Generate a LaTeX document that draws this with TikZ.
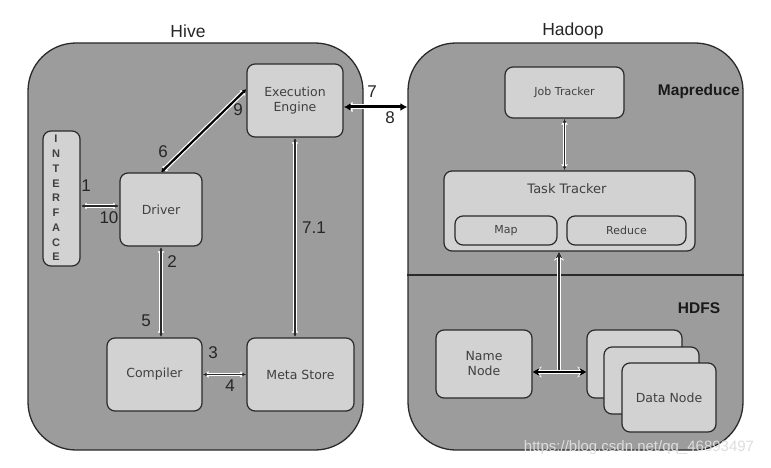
\documentclass[tikz,border=0pt]{standalone}
\usepackage{fontspec}
\setmainfont{Liberation Sans}
\newfontfamily\boxfont{DejaVu Sans}
\usetikzlibrary{arrows.meta,calc}
\definecolor{cgray}{HTML}{9C9C9C}
\definecolor{lgray}{HTML}{D2D2D2}
\definecolor{tgray}{HTML}{404040}
\definecolor{edge}{HTML}{2A2A2A}
\definecolor{wmark}{HTML}{DDDDDD}
\tikzset{
  cont/.style={draw=edge, line width=1.3pt, fill=cgray, rounded corners=48pt, inner sep=0pt},
  box/.style={draw=edge, line width=1.2pt, fill=lgray, rounded corners=8pt, inner sep=0pt,
    font=\boxfont\fontsize{12.5}{15}\selectfont, text=tgray, align=center},
  smallbox/.style={box, font=\boxfont\fontsize{11}{13}\selectfont},
  title/.style={font=\fontsize{17.5}{17.5}\selectfont, text=black!85, inner sep=0pt},
  sect/.style={font=\bfseries\fontsize{15.5}{16}\selectfont, text=black!90, inner sep=0pt},
  num/.style={font=\fontsize{17}{17}\selectfont, text=black!85, inner sep=0pt},
  link/.style={draw=edge, line width=1.1pt, {Latex[length=4pt,width=4pt]}-{Latex[length=4pt,width=4pt]},
    preaction={draw=white, line width=3.8pt, {Latex[length=6pt,width=7pt]}-{Latex[length=6pt,width=7pt]}}},
  thicklink/.style={draw=black, line width=2.2pt, {Latex[length=4pt,width=5pt]}-{Latex[length=4pt,width=5pt]},
    preaction={draw=white, line width=4.6pt, {Latex[length=6pt,width=8pt]}-{Latex[length=6pt,width=8pt]}}},
  biglink/.style={draw=black, line width=3pt, {Latex[length=7pt,width=8pt]}-{Latex[length=7pt,width=8pt]},
    preaction={draw=white, line width=5pt, {Latex[length=9pt,width=11pt]}-{Latex[length=9pt,width=11pt]}}},
  hlink/.style={draw=black, line width=1.6pt, {Stealth[length=7pt,width=8pt]}-{Stealth[length=7pt,width=8pt]},
    preaction={draw=white, line width=3.8pt, {Stealth[length=9pt,width=11pt]}-{Stealth[length=9pt,width=11pt]}}},
  uplink/.style={draw=edge, line width=1.1pt, -{Stealth[length=7pt,width=7pt]},
    preaction={draw=white, line width=3.8pt, -{Stealth[length=9pt,width=10pt]}}},
}
\begin{document}
\begin{tikzpicture}[x=1pt,y=-1pt]
\useasboundingbox (0,0) rectangle (771,468);
\fill[white] (0,0) rectangle (771,468);

% containers
\node[cont, minimum width=335pt, minimum height=407pt] (hive) at (195.5,246.5) {};
\node[cont, minimum width=335pt, minimum height=407pt] (hadoop) at (575.5,246.5) {};
\draw[draw=edge, line width=1.3pt] (hadoop.west |- 0,275) -- (hadoop.east |- 0,275);

\node[title] (hivet) at (188,31) {Hive};
\node[title] (hadoopt) at (573,31) {Hadoop};

% Hive boxes
\node[box, minimum width=96pt, minimum height=73pt] (exec) at (295,100.5) {Execution\\Engine};
\node[box, minimum width=37pt, minimum height=135pt] (iface) at (61.5,198.5) {};
\node[font=\bfseries\fontsize{11}{14.75}\selectfont, text=tgray, align=center, inner sep=0pt] (ifacet) at (56,198)
  {I\\N\\T\\E\\R\\F\\A\\C\\E};
\node[box, minimum width=82pt, minimum height=73pt] (driver) at (161,209.5) {Driver};
\node[box, minimum width=95pt, minimum height=73pt] (compiler) at (154.5,374.5) {Compiler};
\node[box, minimum width=107pt, minimum height=73pt] (meta) at (300.5,374.5) {Meta Store};

% Hadoop boxes
\node[smallbox, minimum width=119pt, minimum height=51pt] (job) at (564.5,92.5) {Job Tracker};
\node[sect, anchor=east] (mapred) at (740,91) {Mapreduce};
\node[box, minimum width=251pt, minimum height=80pt] (task) at (569.5,211) {};
\node[font=\boxfont\fontsize{13}{15}\selectfont, text=tgray, inner sep=0pt] (taskt) at (567,189) {Task Tracker};
\node[smallbox, minimum width=102pt, minimum height=29pt] (map) at (506,230.5) {Map};
\node[smallbox, minimum width=119pt, minimum height=29pt] (reduce) at (626.5,230.5) {Reduce};

\node[sect] (hdfs) at (699,308) {HDFS};
\node[box, minimum width=96pt, minimum height=68pt] (name) at (484,364) {Name\\Node};
\node[box, minimum width=95pt, minimum height=68pt] (data3) at (634.5,364) {};
\node[box, minimum width=95pt, minimum height=67pt] (data2) at (651.5,380.5) {};
\node[box, minimum width=94pt, minimum height=69pt] (data1) at (669,397.5) {Data Node};

% connectors
\draw[link] (iface.east |- 0,206) -- (driver.west |- 0,206);
\draw[thicklink] (driver.north) -- (exec.west |- 0,89);
\draw[link] (driver.south) -- (driver.south |- compiler.north);
\draw[link] (exec.south) -- (exec.south |- meta.north);
\draw[link] (compiler.east) -- (meta.west);
\draw[biglink] (exec.east |- 0,107) -- (hadoop.west |- 0,107);
\draw[link] (job.south) -- (job.south |- task.north);
\coordinate (junc) at (559,372);
\draw[uplink] (junc) -- (junc |- task.south);
\draw[hlink] (name.east |- junc) -- (data3.west |- junc);

% numbers
\node[num] (n1) at (86,186) {1};
\node[num] (n10) at (109,218) {10};
\node[num] (n6) at (163,152) {6};
\node[num] (n9) at (238,110) {9};
\node[num] (n2) at (172,262) {2};
\node[num] (n5) at (146,321) {5};
\node[num] (n71) at (314,228) {7.1};
\node[num] (n3) at (213,353) {3};
\node[num] (n4) at (230,386) {4};
\node[num] (n7) at (372,92) {7};
\node[num] (n8) at (390,118) {8};

% watermark
\node[font=\fontsize{15}{15}\selectfont, text=wmark, inner sep=0pt] (wm) at (639,448) {https://blog.csdn.net/qq\_46893497};
\end{tikzpicture}
\end{document}
